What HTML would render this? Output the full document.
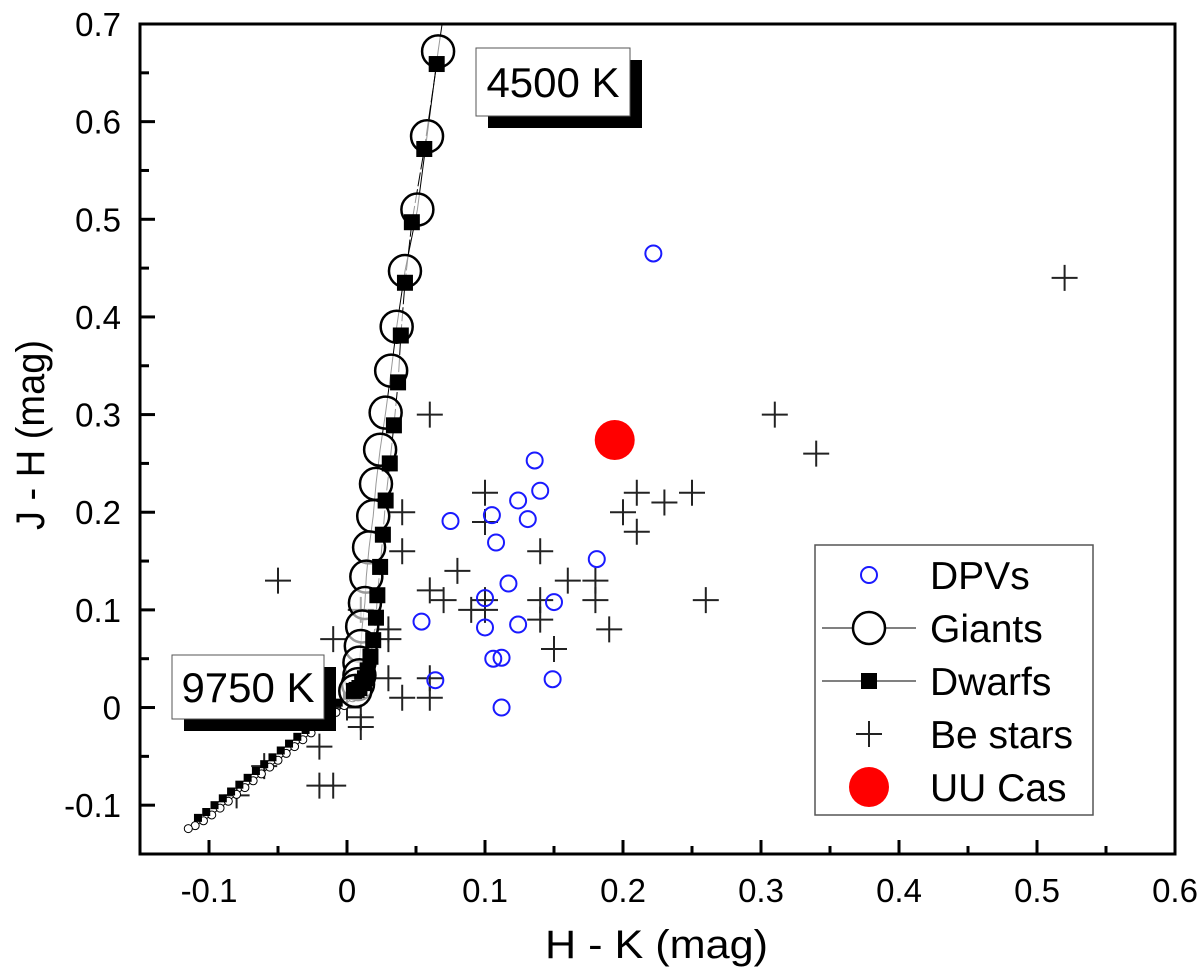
<!DOCTYPE html>
<html><head><meta charset="utf-8">
<style>
html,body{margin:0;padding:0;background:#fff;}
svg{display:block;font-family:"Liberation Sans",Arial,sans-serif;}
</style></head>
<body>
<svg id="chart" width="1200" height="979" viewBox="0 0 1200 979" xmlns="http://www.w3.org/2000/svg">
<rect width="1200" height="979" fill="#fff"/>
<g id="marks"></g>
<g id="frame"></g>
</svg>
<script>
const xTicks=[-0.1,0,0.1,0.2,0.3,0.4,0.5,0.6];
const xTickLabels=["-0.1","0","0.1","0.2","0.3","0.4","0.5","0.6"];
const yTicks=[-0.1,0,0.1,0.2,0.3,0.4,0.5,0.6,0.7];
const yTickLabels=["-0.1","0","0.1","0.2","0.3","0.4","0.5","0.6","0.7"];
const dpvX=[0.222,0.136,0.14,0.124,0.105,0.131,0.075,0.108,0.181,0.117,0.1,0.15,0.054,0.1,0.124,0.106,0.112,0.064,0.149,0.112];
const dpvY=[0.465,0.253,0.222,0.212,0.197,0.193,0.191,0.169,0.152,0.127,0.112,0.108,0.088,0.082,0.085,0.05,0.051,0.028,0.029,0.0];
const beX=[0.52,0.31,0.34,0.06,0.1,0.1,0.04,0.04,0.14,0.08,0.06,0.07,0.09,0.1,0.1,0.14,0.14,0.16,0.18,0.18,0.19,0.15,0.21,0.2,0.21,0.23,0.25,0.26,0.03,0.03,0.03,0.06,0.04,0.06,-0.05,-0.01,0.01,0.0,0.01,-0.02,-0.02,-0.01,-0.06,-0.08,0.01];
const beY=[0.44,0.30,0.26,0.30,0.22,0.19,0.20,0.16,0.16,0.14,0.12,0.11,0.10,0.11,0.10,0.11,0.09,0.13,0.13,0.11,0.08,0.06,0.22,0.20,0.18,0.21,0.22,0.11,0.08,0.07,0.03,0.03,0.01,0.01,0.13,0.07,0.10,0.0,-0.02,-0.04,-0.08,-0.08,-0.06,-0.09,-0.01];
const uuX=[0.194];
const uuY=[0.274];
const giantX=[0.072,0.066,0.058,0.051,0.042,0.036,0.032,0.028,0.024,0.021,0.019,0.016,0.014,0.013,0.011,0.010,0.009,0.009,0.008,0.006];
const giantY=[0.73,0.672,0.585,0.51,0.447,0.39,0.345,0.302,0.264,0.229,0.196,0.164,0.134,0.107,0.083,0.063,0.046,0.033,0.024,0.017];
const giantHotX=[0.004,-0.002,-0.008,-0.014,-0.02,-0.026,-0.032,-0.038,-0.044,-0.05,-0.056,-0.062,-0.068,-0.074,-0.08,-0.086,-0.092,-0.098,-0.104,-0.11,-0.115];
const giantHotY=[0.010,0.002,-0.005,-0.012,-0.019,-0.026,-0.033,-0.040,-0.047,-0.054,-0.061,-0.068,-0.075,-0.082,-0.089,-0.096,-0.103,-0.110,-0.116,-0.121,-0.124];
const dwarfX=[0.065,0.056,0.047,0.042,0.039,0.037,0.034,0.031,0.028,0.026,0.024,0.022,0.021,0.019,0.017,0.015,0.013,0.011,0.009,0.007,0.005];
const dwarfY=[0.659,0.572,0.497,0.435,0.381,0.333,0.289,0.25,0.212,0.177,0.144,0.115,0.092,0.069,0.052,0.038,0.03,0.025,0.02,0.018,0.017];
const dwarfHotX=[0.0,-0.006,-0.012,-0.018,-0.024,-0.03,-0.036,-0.042,-0.048,-0.054,-0.06,-0.066,-0.072,-0.078,-0.084,-0.09,-0.096,-0.102,-0.108];
const dwarfHotY=[0.012,0.005,-0.002,-0.009,-0.016,-0.023,-0.030,-0.037,-0.044,-0.051,-0.058,-0.065,-0.072,-0.079,-0.086,-0.093,-0.100,-0.107,-0.113];

const X0=140,X1=1175,Y0=24,Y1=854;
const xmin=-0.15,xmax=0.6,ymin=-0.15,ymax=0.7;
function sx(v){return X0+(v-xmin)/(xmax-xmin)*(X1-X0);}
function sy(v){return Y1-(v-ymin)/(ymax-ymin)*(Y1-Y0);}
const NS="http://www.w3.org/2000/svg";
const marks=document.getElementById('marks');
const frame=document.getElementById('frame');
function mk(tag,attrs,parent){const e=document.createElementNS(NS,tag);for(const k in attrs)e.setAttribute(k,attrs[k]);(parent||marks).appendChild(e);return e;}

const clip=mk('clipPath',{id:'pc'});mk('rect',{x:X0,y:Y0,width:X1-X0,height:Y1-Y0},clip);
const plot=mk('g',{'clip-path':'url(#pc)'});

function poly(xs,ys,attrs){let d='';for(let i=0;i<xs.length;i++)d+=(i?'L':'M')+sx(xs[i]).toFixed(1)+' '+sy(ys[i]).toFixed(1);return mk('path',Object.assign({d:d,fill:'none'},attrs),plot);}
let gl=poly(giantHotX.slice().reverse().concat(giantX.slice().reverse()),giantHotY.slice().reverse().concat(giantY.slice().reverse()),{stroke:'#000','stroke-width':1});


let dl=poly(dwarfHotX.slice().reverse().concat(dwarfX.slice().reverse()),dwarfHotY.slice().reverse().concat(dwarfY.slice().reverse()),{stroke:'#000','stroke-width':1,'stroke-dasharray':'14 3'});



for(let i=0;i<beX.length;i++){const cx=sx(beX[i]),cy=sy(beY[i]);
 const p=mk('path',{d:`M${cx-13} ${cy}H${cx+13}M${cx} ${cy-13}V${cy+13}`,stroke:'#222','stroke-width':2},plot);
 
 }
for(let i=0;i<giantHotX.length;i++){const c=mk('circle',{cx:sx(giantHotX[i]),cy:sy(giantHotY[i]),r:4,fill:'#fff',stroke:'#000','stroke-width':1},plot);
 
 }
for(let i=0;i<dwarfHotX.length;i++){const c=mk('rect',{x:sx(dwarfHotX[i])-4,y:sy(dwarfHotY[i])-4,width:8,height:8,fill:'#000'},plot);
 
 }
for(let i=1;i<giantX.length;i++){const c=mk('circle',{cx:sx(giantX[i]),cy:sy(giantY[i]),r:16,fill:'#fff','fill-opacity':0.6,stroke:'#000','stroke-width':2.5},plot);
 
 }
for(let i=0;i<dwarfX.length;i++){const c=mk('rect',{x:sx(dwarfX[i])-8,y:sy(dwarfY[i])-8,width:16,height:16,fill:'#000'},plot);
 
 }
for(let i=0;i<dpvX.length;i++){const c=mk('circle',{cx:sx(dpvX[i]),cy:sy(dpvY[i]),r:8,fill:'none',stroke:'#1a1aff','stroke-width':2},plot);
 
 }
for(let i=0;i<uuX.length;i++){const c=mk('circle',{cx:sx(uuX[i]),cy:sy(uuY[i]),r:20,fill:'#ff0000'},plot);
 
 }

function tlabel(x,y,w,h,txt,name){const g=mk('g',{},marks);
 
 
 mk('rect',{x:x+12,y:y+12,width:w,height:h,fill:'#000'},g);
 mk('rect',{x:x,y:y,width:w,height:h,fill:'#fff',stroke:'#555','stroke-width':1},g);
 const t=mk('text',{x:x+w/2,y:y+h/2+15,'font-size':42,'text-anchor':'middle',fill:'#000'},g);t.textContent=txt;}
tlabel(476,48,154,68,'4500 K','label-4500k');
tlabel(172,655,152,64,'9750 K','label-9750k');

const fr=mk('rect',{x:X0,y:Y0,width:X1-X0,height:Y1-Y0,fill:'none',stroke:'#000','stroke-width':3},frame);


for(let v=-0.15;v<=0.6001;v+=0.05){const x=sx(v);const major=Math.abs(Math.round(v*10)-v*10)<1e-6;
 mk('line',{x1:x,x2:x,y1:Y1,y2:Y1-(major?14:8),stroke:'#000','stroke-width':3},frame);}
for(let v=-0.15;v<=0.7001;v+=0.05){const y=sy(v);const major=Math.abs(Math.round(v*10)-v*10)<1e-6;
 mk('line',{x1:X0,x2:X0+(major?15:9),y1:y,y2:y,stroke:'#000','stroke-width':3},frame);}
for(let i=0;i<xTicks.length;i++){const t=mk('text',{x:sx(xTicks[i]),y:902,'font-size':33,'text-anchor':'middle'},frame);t.textContent=xTickLabels[i];
 
 }
for(let i=0;i<yTicks.length;i++){const t=mk('text',{x:121,y:sy(yTicks[i])+12,'font-size':33,'text-anchor':'end'},frame);t.textContent=yTickLabels[i];
 
 }
const xt=mk('text',{x:545,y:958,'font-size':40,textLength:223,lengthAdjust:'spacingAndGlyphs'},frame);xt.textContent='H - K (mag)';


const yt=mk('text',{x:0,y:0,'font-size':40,textLength:190,lengthAdjust:'spacingAndGlyphs',transform:'translate(44,530) rotate(-90)'},frame);yt.textContent='J - H (mag)';



const lg=mk('g',{},frame);


mk('rect',{x:815,y:545,width:278,height:270,fill:'#fff',stroke:'#555','stroke-width':1.5},lg);
const ly=[575,628,681,734,787];
const lt=['DPVs','Giants','Dwarfs','Be stars','UU Cas'];
for(let i=0;i<5;i++){const t=mk('text',{x:930,y:ly[i]+14,'font-size':39},lg);t.textContent=lt[i];
 
 }
mk('circle',{cx:869,cy:575,r:8,fill:'none',stroke:'#1a1aff','stroke-width':2},lg);
mk('line',{x1:822,x2:916,y1:628,y2:628,stroke:'#000','stroke-width':1},lg);
mk('circle',{cx:869,cy:628,r:16,fill:'#fff',stroke:'#000','stroke-width':2.5},lg);
mk('line',{x1:822,x2:916,y1:681,y2:681,stroke:'#000','stroke-width':1},lg);
mk('rect',{x:861,y:673,width:16,height:16,fill:'#000'},lg);
mk('path',{d:'M856 734H882M869 721V747',stroke:'#222','stroke-width':2},lg);
mk('circle',{cx:869,cy:787,r:20,fill:'#ff0000'},lg);
</script>
</body></html>
